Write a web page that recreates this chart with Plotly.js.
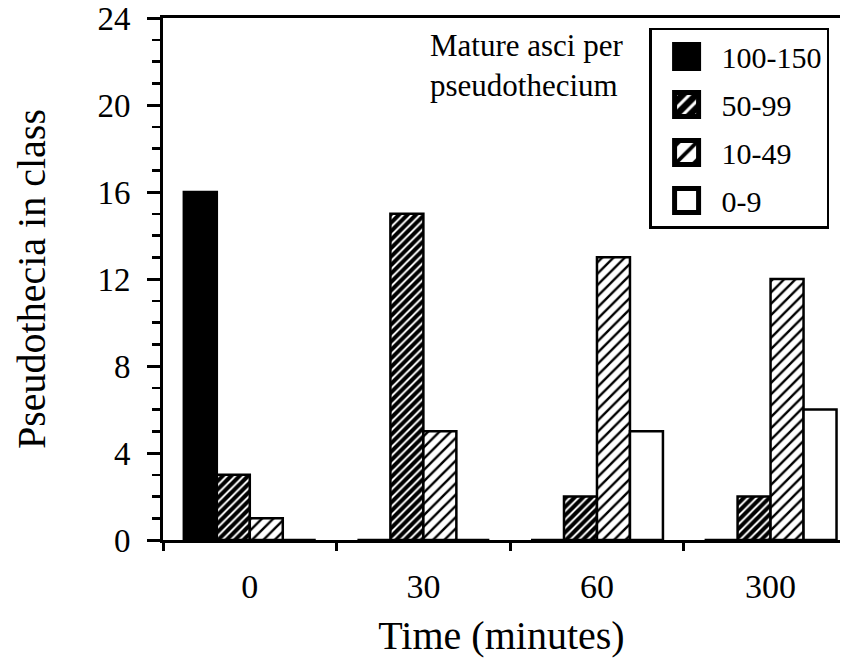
<!DOCTYPE html>
<html>
<head>
<meta charset="utf-8">
<script src="https://cdn.plot.ly/plotly-3.0.1.min.js"></script>
<style>html,body{margin:0;padding:0;background:#fff;}</style>
</head>
<body>
<div id="chart" style="width:860px;height:660px;"></div>
<script>
const times = ['0', '30', '60', '300'];
const classNames = ['100-150', '50-99', '10-49', '0-9'];
const class100_150 = [16, 0, 0, 0];
const class50_99 = [3, 15, 2, 2];
const class10_49 = [1, 5, 13, 12];
const class0_9 = [0, 0, 5, 6];
const yTicks = [0, 4, 8, 12, 16, 20, 24];

const font = 'Liberation Serif';
const seriesValues = [class100_150, class50_99, class10_49, class0_9];
const patterns = [
  {shape: '', bgcolor: 'black', fgcolor: 'black'},
  {shape: '/', bgcolor: 'white', fgcolor: 'black', size: 6, solidity: 0.68, fillmode: 'replace'},
  {shape: '/', bgcolor: 'white', fgcolor: 'black', size: 8, solidity: 0.3, fillmode: 'replace'},
  {shape: '', bgcolor: 'white', fgcolor: 'black'}
];
const fills = ['black', 'white', 'white', 'white'];

const traces = seriesValues.map((vals, i) => ({
  type: 'bar',
  name: classNames[i],
  x: times,
  y: vals,
  legendgroup: 'g' + i,
  marker: {
    color: fills[i],
    line: {color: 'black', width: 2.5},
    pattern: patterns[i]
  }
}));

const layout = {
  width: 860,
  height: 660,
  margin: {l: 163, r: 20, t: 18, b: 120},
  paper_bgcolor: 'white',
  plot_bgcolor: 'white',
  font: {family: font, color: 'black', size: 30},
  barmode: 'group',
  bargap: 0.24,
  bargroupgap: 0,
  showlegend: true,
  legend: {
    x: 0.718, y: 0.981, xanchor: 'left', yanchor: 'top',
    bordercolor: 'black', borderwidth: 2.5, bgcolor: 'white',
    font: {family: font, size: 30, color: 'black'},
    traceorder: 'grouped', tracegroupgap: 6,
    itemwidth: 60
  },
  xaxis: {
    type: 'category',
    range: [-0.5, 3.4],
    showline: true, linecolor: 'black', linewidth: 3, mirror: true,
    ticks: 'outside', tickson: 'boundaries', ticklen: 8, tickwidth: 3, tickcolor: 'black',
    showgrid: false, zeroline: false,
    tickfont: {family: font, size: 34},
    ticklabelstandoff: 14,
    title: {text: 'Time (minutes)', font: {family: font, size: 40}, standoff: 18}
  },
  yaxis: {
    range: [0, 24],
    tickvals: yTicks,
    ticktext: yTicks.map(String),
    showline: true, linecolor: 'black', linewidth: 3,
    ticks: 'outside', ticklen: 13, tickwidth: 3, tickcolor: 'black',
    minor: {dtick: 1, ticks: 'outside', ticklen: 8, tickwidth: 2.5, tickcolor: 'black', showgrid: false},
    showgrid: false, zeroline: false,
    tickfont: {family: font, size: 33},
    ticklabeloverflow: 'allow',
    ticklabelstandoff: 10,
    title: {text: 'Pseudothecia in class', font: {family: font, size: 40}, standoff: 40}
  },
  annotations: [{
    xref: 'paper', yref: 'paper', x: 0.392, y: 0.985, xanchor: 'left', yanchor: 'top',
    text: 'Mature asci per<br>pseudothecium', showarrow: false, align: 'left',
    font: {family: font, size: 31, color: 'black'}
  }]
};

Plotly.newPlot('chart', traces, layout, {displayModeBar: false, staticPlot: true}).then(() => {
  document.querySelectorAll('.legend .legendpoints path').forEach(p => {
    const t = p.getAttribute('transform') || '';
    p.setAttribute('transform', t + ' scale(2)');
  });
});
</script>
</body>
</html>
